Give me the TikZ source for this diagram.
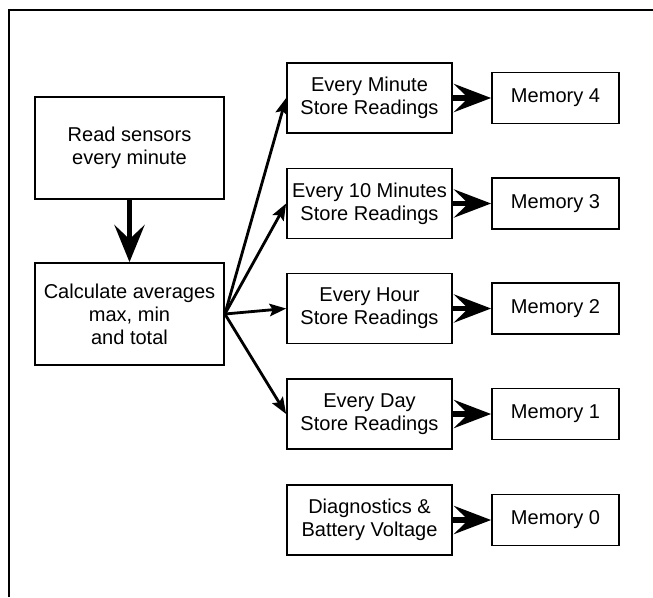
\documentclass[tikz,border=0pt]{standalone}
\usepackage{fontspec}
\setmainfont{Liberation Sans}
\usetikzlibrary{arrows.meta}

\begin{document}
\begin{tikzpicture}[>=Stealth,font=\fontsize{11.4}{13.1}\selectfont,
  blk/.style={draw,line width=1pt,align=center,inner sep=0pt},
  fat/.style={line width=3.2pt,-{Stealth[length=7.4mm,width=#1,inset=2.8mm]}},
  fat/.default=5.6mm,
  fan/.style={line width=1.6pt,-{Stealth[length=3.3mm,width=2.5mm,inset=0.6mm]}}]
\useasboundingbox (0,0) rectangle (13.06,11.94);
\draw[line width=1.2pt] (0.18,0) -- (0.18,11.74) -- (13.06,11.74);
\node[blk,minimum width=3.78cm,minimum height=2.04cm] (read) at (2.59,8.98) {Read sensors\\every minute};
\node[blk,minimum width=3.78cm,minimum height=2.04cm] (calc) at (2.59,5.66) {Calculate averages\\max, min\\and total};
\draw[fat=6mm] (read) -- (calc);
\foreach \i/\y/\txt in {4/9.98/{Every Minute\\Store Readings},
    3/7.87/{Every 10 Minutes\\Store Readings}, 2/5.77/{Every Hour\\Store Readings},
    1/3.66/{Every Day\\Store Readings}, 0/1.54/{Diagnostics \&\\Battery Voltage}} {
  \node[blk,minimum width=3.30cm,minimum height=1.40cm] (st\i) at (7.39,\y) {\txt};
  \node[blk,minimum width=2.54cm,minimum height=1.02cm] (mem\i) at (11.11,\y) {Memory \i};
  \draw[fat] (st\i) -- (mem\i);
}
\foreach \i in {1,...,4} \draw[fan] (calc.east) -- (st\i.west);
\end{tikzpicture}
\end{document}
